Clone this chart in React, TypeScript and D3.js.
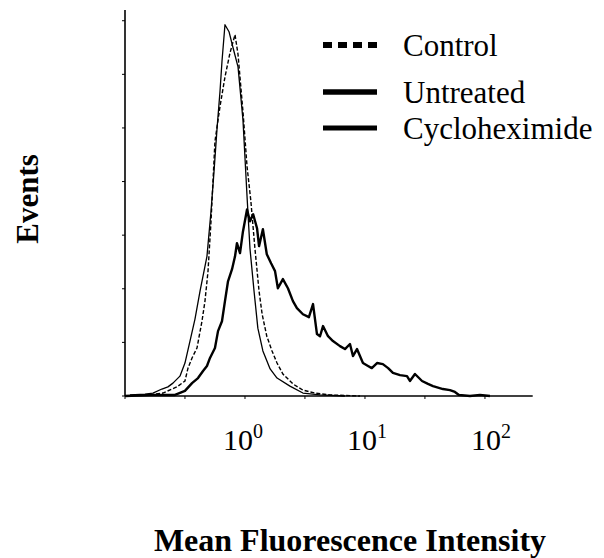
import React from "react";
import * as d3 from "d3";

// ---- data (MFI, events) ----
const controlMFI = [0.162, 0.207, 0.271, 0.316, 0.335, 0.362, 0.398, 0.438, 0.464, 0.492, 0.521, 0.562, 0.619, 0.681, 0.75, 0.826, 0.875, 0.962, 1.04, 1.12, 1.21, 1.31, 1.39, 1.52, 1.68, 1.85, 2.07, 2.51, 3.04, 3.83, 5.11, 9.08];
const controlEvents = [0.4, 1.1, 3.4, 5.6, 10.4, 14.2, 17.9, 27.9, 35.4, 46.6, 65.2, 95.0, 108.0, 119.0, 128.0, 134.8, 127.4, 106.1, 85.7, 72.6, 55.1, 39.1, 30.5, 22.3, 16.8, 12.3, 8.2, 4.5, 2.2, 1.1, 0.4, 0];

const untreatedMFI = [0.1, 0.162, 0.261, 0.316, 0.362, 0.406, 0.447, 0.482, 0.511, 0.562, 0.596, 0.643, 0.681, 0.722, 0.78, 0.826, 0.857, 0.909, 0.962, 1.04, 1.1, 1.17, 1.26, 1.31, 1.41, 1.52, 1.65, 1.78, 1.88, 2.07, 2.28, 2.51, 2.71, 3.04, 3.41, 3.69, 3.98, 4.22, 4.47, 4.92, 5.41, 6.19, 6.81, 7.5, 7.94, 8.58, 9.62, 10.6, 11.4, 12.6, 14.1, 15.6, 17.1, 19.6, 22.4, 23.7, 26.1, 29.9, 33.5, 36.9, 44.7, 51.1, 56.2, 60.7, 75.0, 90.9, 110];
const untreatedEvents = [0, 0.4, 0.4, 1.9, 4.8, 6.7, 9.3, 11.2, 14.2, 17.9, 24.2, 27.9, 35.4, 42.8, 47.3, 52.1, 57.0, 53.3, 61.4, 69.6, 65.2, 67.8, 62.6, 55.9, 62.2, 52.9, 49.5, 46.6, 40.2, 43.6, 40.2, 35.4, 32.8, 30.5, 29.4, 34.3, 23.1, 22.3, 26.1, 22.3, 20.5, 18.6, 17.5, 19.4, 14.9, 17.5, 12.3, 11.2, 10.4, 12.3, 11.9, 10.4, 8.6, 7.8, 7.4, 5.6, 8.2, 5.6, 4.5, 3.7, 2.6, 2.2, 1.5, 0.4, 0, 0.4, 0];

const cycloMFI = [0.11, 0.147, 0.171, 0.203, 0.228, 0.251, 0.287, 0.316, 0.348, 0.383, 0.422, 0.482, 0.521, 0.552, 0.585, 0.619, 0.643, 0.681, 0.736, 0.794, 0.875, 0.962, 1.04, 1.1, 1.19, 1.28, 1.41, 1.62, 1.85, 2.37, 3.04, 4.22, 6.81];
const cycloEvents = [0.4, 0.7, 1.1, 2.6, 3.4, 4.8, 7.4, 12.3, 20.5, 28.7, 39.1, 52.1, 68.9, 83.8, 99.8, 113.6, 124.8, 138.5, 135.9, 130.0, 122.8, 103.0, 74.5, 55.1, 39.1, 25.3, 16.8, 10.1, 6.7, 3.7, 1.1, 0.4, 0];

const xTickValues = [0.1, 0.316, 1, 3.16, 10, 31.6, 100];
const xLabelValues = [1, 10, 100];
const xLabelExponents = ["0", "1", "2"];
const yTickValues = [0, 20, 40, 60, 80, 100, 120, 140];

const legendLabels = ["Control", "Untreated", "Cycloheximide"];

export default function App() {
  const W = 604, H = 558;
  const x = d3.scaleLog().domain([0.1, 250]).range([125, 532.7]);
  const y = d3.scaleLinear().domain([0, 144]).range([396, 10]);
  const line = d3.line<[number, number]>().x(d => x(d[0])).y(d => y(d[1]));

  const ctrl = line(controlMFI.map((v, i) => [v, controlEvents[i]]) as [number, number][]) || "";
  const untr = line(untreatedMFI.map((v, i) => [v, untreatedEvents[i]]) as [number, number][]) || "";
  const cyc = line(cycloMFI.map((v, i) => [v, cycloEvents[i]]) as [number, number][]) || "";

  const labelDx = [-2, 2, 6];
  const legendY = [45, 92, 128];
  const font = "'Liberation Serif', 'Times New Roman', serif";

  return (
    <svg width={W} height={H} style={{ position: "absolute", left: 0, top: 0, background: "#fff" }} fontFamily={font}>
      {/* axes */}
      <line x1={x(0.1)} x2={x(0.1)} y1={y(0)} y2={y(144)} stroke="#000" strokeWidth={1.6} />
      <line x1={x(0.1)} x2={x(250)} y1={y(0)} y2={y(0)} stroke="#000" strokeWidth={1.6} />
      {yTickValues.map(v => (
        <line key={"yt" + v} x1={x(0.1) - 3} x2={x(0.1)} y1={y(v)} y2={y(v)} stroke="#000" strokeWidth={1} />
      ))}
      {xTickValues.map(v => (
        <line key={"xt" + v} x1={x(v)} x2={x(v)} y1={y(0)} y2={y(0) + 3} stroke="#000" strokeWidth={1} />
      ))}
      {xLabelValues.map((v, i) => (
        <text key={"xl" + v} x={x(v) + labelDx[i]} y={450} textAnchor="middle" fontSize={30} fill="#000">
          10<tspan dy={-12} fontSize={20}>{xLabelExponents[i]}</tspan>
        </text>
      ))}
      {/* curves */}
      <path d={cyc} fill="none" stroke="#000" strokeWidth={1.3} strokeLinejoin="round" />
      <path d={ctrl} fill="none" stroke="#000" strokeWidth={1.4} strokeDasharray="4,2" />
      <path d={untr} fill="none" stroke="#000" strokeWidth={2.4} strokeLinejoin="round" />
      {/* legend */}
      <line x1={323} x2={377} y1={legendY[0]} y2={legendY[0]} stroke="#000" strokeWidth={6} strokeDasharray="9,6" />
      <line x1={323} x2={377} y1={legendY[1]} y2={legendY[1]} stroke="#000" strokeWidth={5.5} />
      <line x1={323} x2={377} y1={legendY[2]} y2={legendY[2]} stroke="#000" strokeWidth={5} />
      {legendLabels.map((t, i) => (
        <text key={t} x={403} y={legendY[i] + 11} fontSize={31} fill="#000">{t}</text>
      ))}
      {/* axis titles */}
      <text transform="translate(38,199) rotate(-90)" textAnchor="middle" fontSize={31} fontWeight="bold" fill="#000">Events</text>
      <text x={350} y={551} textAnchor="middle" fontSize={32} fontWeight="bold" fill="#000">Mean Fluorescence Intensity</text>
    </svg>
  );
}
